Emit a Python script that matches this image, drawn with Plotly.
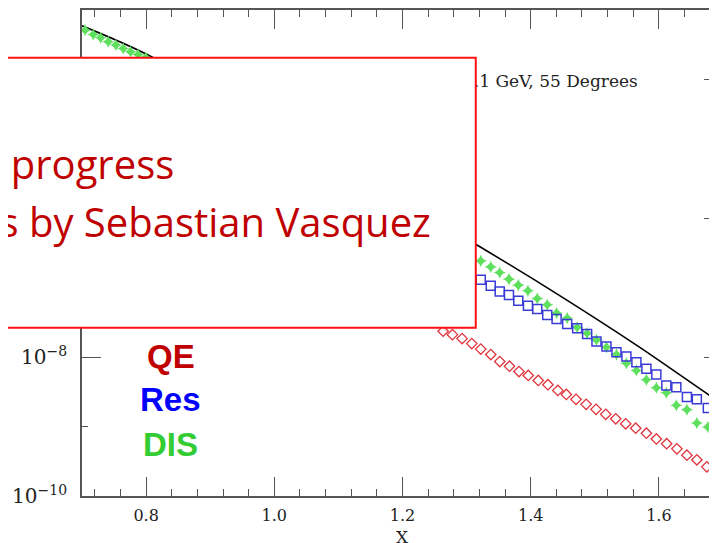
import numpy as np
import plotly.graph_objects as go

# ---------------- data ----------------
# total (black line)
total_x = [0.700, 0.8085, 1.3168, 1.4440, 1.5685, 1.6883, 1.700]
total_log10 = [-3.228, -3.673, -6.389, -7.106, -7.848, -8.608, -8.675]

# DIS (green stars), visible near the top-left
dis_left_x = [0.7047, 0.7176, 0.7291, 0.7409, 0.7529, 0.7643, 0.7758, 0.7876, 0.7994]
dis_left_log10 = [-3.290, -3.353, -3.400, -3.458, -3.505, -3.554, -3.601, -3.640, -3.685]

# common x grid of the right-hand points
grid_x = [1.3221, 1.3377, 1.3517, 1.3661, 1.3806, 1.3957, 1.4102, 1.4258, 1.4404,
          1.4569, 1.4725, 1.4880, 1.5026, 1.5182, 1.5338, 1.5493, 1.5649, 1.5805,
          1.5960, 1.6116, 1.6272, 1.6437, 1.6592, 1.6763, 1.6914]
dis_log10 = [-6.614, -6.700, -6.782, -6.877, -6.963, -7.044, -7.155, -7.245, -7.364,
             -7.436, -7.571, -7.657, -7.752, -7.858, -7.963, -8.088, -8.192, -8.326,
             -8.440, -8.512, -8.694, -8.756, -8.948, -9.006, -9.221]
res_log10 = [-6.887, -6.973, -7.054, -7.106, -7.188, -7.260, -7.307, -7.393, -7.451,
             -7.522, -7.585, -7.666, -7.776, -7.848, -7.930, -7.991, -8.073, -8.168,
             -8.250, -8.407, -8.432, -8.575, -8.608, -8.733, -8.809]

# QE (red diamonds)
qe_x = [1.2634, 1.2779, 1.2930, 1.3081, 1.3221, 1.3377, 1.3517, 1.3669, 1.3817, 1.3962,
        1.4118, 1.4268, 1.4424, 1.4556, 1.4707, 1.4865, 1.5020, 1.5171, 1.5327, 1.5482,
        1.5638, 1.5805, 1.5960, 1.6121, 1.6281, 1.6437, 1.6592, 1.6748, 1.6891]
qe_log10 = [-7.626, -7.676, -7.733, -7.805, -7.884, -7.963, -8.063, -8.131, -8.207, -8.264,
            -8.336, -8.397, -8.479, -8.537, -8.608, -8.680, -8.752, -8.824, -8.888, -8.960,
            -9.024, -9.096, -9.178, -9.247, -9.321, -9.412, -9.479, -9.580, -9.651]

x_tick_labels = ["0.8", "1.0", "1.2", "1.4", "1.6"]
legend_labels = ["QE", "Res", "DIS"]
legend_colors = ["#C00000", "#0000FF", "#33CC33"]
title_text = "E = 2.1 GeV, 55 Degrees"
note_lines = ["Work in progress", "Calculations by Sebastian Vasquez"]


def p(v):
    return 10 ** np.array(v)


AXC = "#555555"
fig = go.Figure()

fig.add_trace(go.Scatter(x=total_x, y=p(total_log10), mode="lines",
                         line=dict(color="black", width=1.6, shape="spline", smoothing=0.8),
                         hoverinfo="skip"))
fig.add_trace(go.Scatter(x=dis_left_x + grid_x, y=p(dis_left_log10 + dis_log10), mode="markers",
                         marker=dict(symbol="star-diamond", size=9, color="#5EE05E",
                                     line=dict(width=0)), hoverinfo="skip"))
fig.add_trace(go.Scatter(x=grid_x, y=p(res_log10), mode="markers",
                         marker=dict(symbol="square-open", size=9, color="#3B3BD6",
                                     line=dict(width=1.5)), hoverinfo="skip"))
fig.add_trace(go.Scatter(x=qe_x, y=p(qe_log10), mode="markers",
                         marker=dict(symbol="diamond-open", size=8, color="#E0343C",
                                     line=dict(width=1.3)), hoverinfo="skip"))
# title text of the original plot (partly hidden behind the note box)
fig.add_trace(go.Scatter(x=[1.567], y=[9.0e-5], mode="text", text=[title_text],
                         textposition="middle left",
                         textfont=dict(family="DejaVu Serif", size=17, color="#222222"),
                         hoverinfo="skip"))

fig.update_layout(
    width=717, height=543,
    margin=dict(l=74, r=0, t=0, b=55),
    paper_bgcolor="white", plot_bgcolor="white",
    showlegend=False,
    xaxis=dict(range=[0.7, 1.7], showgrid=False, zeroline=False,
               showline=True, linecolor=AXC, linewidth=1.5, mirror="ticks",
               ticks="inside", ticklen=19, tickwidth=1.3, tickcolor=AXC,
               tick0=0.8, dtick=0.2, tickformat=".1f",
               minor=dict(ticks="inside", tick0=0.8, dtick=0.04, ticklen=7,
                          tickwidth=1.3, tickcolor=AXC),
               tickfont=dict(family="DejaVu Serif", size=16, color="#222222"),
               ticklabelstandoff=4),
    yaxis=dict(type="log", range=[-10, -3], showgrid=False, zeroline=False,
               showline=True, linecolor=AXC, linewidth=1.5, mirror="ticks",
               ticks="inside", ticklen=19, tickwidth=1.3, tickcolor=AXC,
               tick0=0, dtick=2, exponentformat="power", showexponent="all",
               minor=dict(ticks="inside", dtick=1, ticklen=6, tickwidth=1.3, tickcolor=AXC),
               tickfont=dict(family="DejaVu Serif", size=16, color="#222222"),
               ticklabelstandoff=10),
)

# the red-bordered note box on top of the plot
fig.add_shape(type="rect", xref="paper", yref="paper",
              x0=-0.3, x1=0.6143, y0=0.3463, y1=0.9016,
              line=dict(color="#FF1010", width=2), fillcolor="white", layer="above")

fig.add_annotation(x=0.1462, y=0.6844, xref="paper", yref="paper", text=note_lines[0],
                   showarrow=False, xanchor="right", yanchor="middle",
                   font=dict(family="Open Sans", size=40, color="#C00000"))
fig.add_annotation(x=0.5474, y=0.5656, xref="paper", yref="paper", text=note_lines[1],
                   showarrow=False, xanchor="right", yanchor="middle",
                   font=dict(family="Open Sans", size=40, color="#C00000"))

for lab, col, yy in zip(legend_labels, legend_colors, [0.2875, 0.1988, 0.1066]):
    fig.add_annotation(x=0.1384, y=yy, xref="paper", yref="paper", text="<b>%s</b>" % lab,
                       showarrow=False, xanchor="center", yanchor="middle",
                       font=dict(family="Liberation Sans", size=33, color=col))

fig.add_annotation(x=1.2, y=-0.084, xref="x", yref="paper", text="X", showarrow=False,
                   xanchor="center", yanchor="middle",
                   font=dict(family="DejaVu Serif", size=17, color="#222222"))

fig.write_html("out.html")
